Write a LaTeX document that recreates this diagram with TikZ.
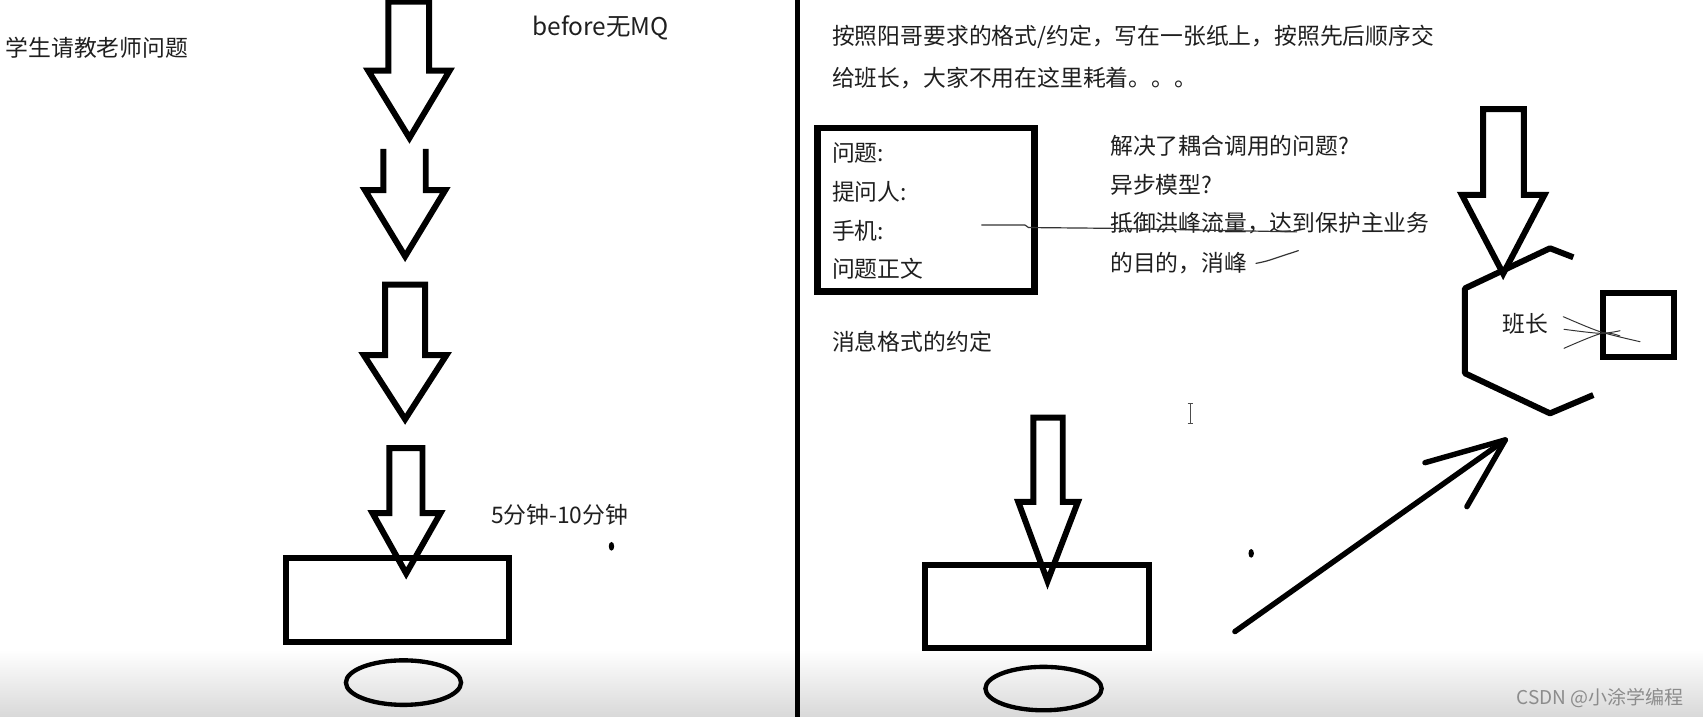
\documentclass[tikz,border=0pt]{standalone}
\usepackage{fontspec}
\setmainfont{Noto Sans CJK SC}
\begin{document}
\begin{tikzpicture}[x=1pt,y=-1pt,
  thickline/.style={line width=5.5pt, line join=miter, black},
  sketch/.style={line width=1.1pt, black!80, line cap=round, line join=round},
  txt/.style={anchor=west, inner sep=0pt, font=\fontsize{21}{21}\selectfont, text=black!88},
]
\fill[white] (0,0) rectangle (1568,660);
\shade[top color=white,bottom color=black!15] (0,598) rectangle (1568,660);
\useasboundingbox (0,0) rectangle (1568,660);

% ---------- left panel ----------
\node[txt] (ask) at (5,44) {学生请教老师问题};
\node[txt, font=\fontsize{22.5}{22.5}\selectfont] (before) at (490,26) {before无MQ};
\node[txt] (time) at (452,474.5) {5分钟-10分钟};

\draw[thickline] (357.5,1.5) -- (395,1.5) -- (395,65) -- (414,65) -- (377,127) -- (339,65) -- (357.5,65) -- cycle;
\draw[thickline] (353,137) -- (353,175) -- (336,175) -- (373,236) -- (410,175) -- (392,175) -- (392,137);
\draw[thickline] (354.5,262) -- (391.5,262) -- (391.5,327) -- (411,327) -- (373,386) -- (335,327) -- (354.5,327) -- cycle;
\draw[thickline] (358.5,412.5) -- (389,412.5) -- (389,472.5) -- (405.5,472.5) -- (374,528) -- (343,472.5) -- (358.5,472.5) -- cycle;
\draw[thickline] (263,514) rectangle (469,591);
\draw[line width=4pt] (371.5,628.5) ellipse [x radius=53, y radius=20.5];
\fill (563,503) ellipse [x radius=2.5, y radius=4];

% ---------- divider ----------
\draw[line width=4.6pt] (734.5,0) -- (734.5,660);

% ---------- right panel ----------
\node[txt] (l1) at (766,34) {按照阳哥要求的格式/约定，写在一张纸上，按照先后顺序交};
\node[txt] (l2) at (766,72) {给班长，大家不用在这里耗着。。。};

\draw[line width=6pt] (752.5,118) rectangle (952.5,268.5);
\node[txt] (f1) at (766,141) {问题:};
\node[txt] (f2) at (766,177) {提问人:};
\node[txt] (f3) at (766,212.5) {手机:};
\node[txt] (f4) at (766,247) {问题正文};

\node[txt] (r1) at (1022,134) {解决了耦合调用的问题?};
\node[txt] (r2) at (1022,170) {异步模型?};
\node[txt] (r3) at (1022,205.5) {抵御洪峰流量，达到保护主业务};
\node[txt] (r4) at (1022,242) {的目的，消峰};

\draw[sketch] (903.9,207.2) -- (943.7,207.2) -- (947,209.5) -- (1020.5,210.2) -- (1193.9,213.5);
\draw[sketch] plot[smooth] coordinates {(1156.4,242.5) (1166.3,240.3) (1178.5,236.3) (1195.4,230.8)};

\node[txt] (fmt) at (766,314.5) {消息格式的约定};

% monitor / hexagon
\draw[thickline] (1365.5,100.5) -- (1403,100.5) -- (1403,179.5) -- (1422,179.5) -- (1384,252) -- (1346,179.5) -- (1365.5,179.5) -- cycle;
\draw[thickline, line join=round] (1448.6,236.9) -- (1427.1,228.6) -- (1348.8,265.5) -- (1348.8,343.7) -- (1427.1,380.6) -- (1467,363.7);
\node[txt] (bz) at (1383,298) {班长};
\draw[thickline] (1475.8,269.8) rectangle (1541.5,328.8);
\draw[sketch, line width=0.9pt] plot[smooth] coordinates {(1439.4,291.6) (1473.2,305.4) (1510,314.6)};
\draw[sketch, line width=0.9pt] plot[smooth] coordinates {(1440,303.2) (1473.2,306.9) (1491.6,304.5)};
\draw[sketch, line width=0.9pt] plot[smooth] coordinates {(1440,320.7) (1474.7,306.9) (1491.6,309.4)};

% bottom right
\draw[thickline] (951.5,384.5) -- (978.5,384.5) -- (978.5,462) -- (992.5,462) -- (964.5,535) -- (937.5,462) -- (951.5,462) -- cycle;
\draw[thickline] (852,520) rectangle (1058,597);
\draw[line width=4pt] (960.8,634) ellipse [x radius=53.5, y radius=20];
\fill (1152,509.5) ellipse [x radius=2.5, y radius=4];

\draw[line width=5pt, line cap=round, line join=round] (1137,581.5) -- (1386,405);
\draw[line width=5pt, line cap=round, line join=round] (1312,426) -- (1386,405) -- (1350.6,466.5);

% text cursor
\draw[black!70, line width=0.8pt] (1096,371.5) -- (1096,389.5);
\draw[black!70, line width=0.8pt] (1093.5,371) -- (1098.5,371);
\draw[black!70, line width=0.8pt] (1093.5,390) -- (1098.5,390);

\node[anchor=west, inner sep=0pt, font=\fontsize{17.5}{17.5}\selectfont, text=black!45] (wm) at (1396.4,643) {CSDN @小涂学编程};
\end{tikzpicture}
\end{document}
